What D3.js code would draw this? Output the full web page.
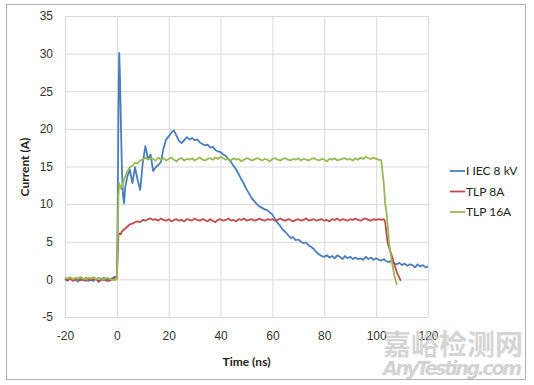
<!DOCTYPE html>
<html>
<head>
<meta charset="UTF-8">
<title>IEC vs TLP current</title>
<script src="https://cdnjs.cloudflare.com/ajax/libs/d3/7.9.0/d3.min.js"></script>
<style>
    body { margin: 0; background: #fff; }
    svg { font-family: Lato, "Open Sans", sans-serif; }
    .grid line { stroke: #d9d9d9; stroke-width: 1; }
    .grid path { display: none; }
    .tick text { fill: #333; font-size: 12px; }
</style>
</head>
<body>
<div id="plot"></div>
<script>
    // ---- data ----
    const xTicks = [-20, 0, 20, 40, 60, 80, 100, 120];
    const yTicks = [-5, 0, 5, 10, 15, 20, 25, 30, 35];
    const seriesNames = ["I IEC 8 kV", "TLP 8A", "TLP 16A"];
    const seriesColors = ["#4a7ebb", "#be4b48", "#98b954"];

    const iecT = [-20,-19,-18,-17,-16,-15,-14,-13,-12,-11,-10,-9,-8,-7,-6,-5,-4,-3,-2,-1,
        0,0.3,0.6,0.9,1.2,1.6,2.0,2.4,2.8,3.2,
        4,5,6,7,8,9,10,11,12,13,14,15,16,17,18,19,20,21,22,23,24,25,26,27,28,29,30,
        31,32,33,34,35,36,37,38,39,40,41,42,43,44,45,46,47,48,49,50,51,52,53,54,55,
        56,57,58,59,60,61,62,63,64,65,66,67,68,69,70,71,72,73,74,75,76,77,78,79,80,
        81,82,83,84,85,86,87,88,89,90,91,92,93,94,95,96,97,98,99,100,101,102,103,104,105,
        106,107,108,109,110,111,112,113,114,115,116,117,118,119,120];
    const iecI = [0.1,-0.2,0.2,-0.1,0.0,-0.3,0.1,-0.1,0.2,-0.2,0.0,-0.2,0.1,-0.3,0.0,0.2,-0.2,-0.1,0.1,0.3,
        0.4,8,22,30.1,27,20,14,11,10.1,12.2,
        13.6,14.6,12.8,14.9,13.2,11.9,15.5,17.7,16.0,16.6,14.4,14.9,15.2,15.6,17.4,18.6,19.0,19.5,19.8,19.1,18.4,18.1,18.5,18.9,18.6,18.8,18.5,
        18.6,18.2,18.0,17.8,17.9,17.5,17.6,17.2,17.0,16.9,16.6,16.4,16.0,15.6,15.1,14.6,14.0,13.3,12.7,12.0,11.4,10.8,10.4,10.0,9.7,
        9.5,9.3,9.2,8.9,8.6,8.0,7.5,7.1,6.6,6.3,5.9,5.5,5.6,5.2,5.3,5.0,4.8,4.9,4.5,4.3,4.0,3.6,3.3,3.1,3.0,
        3.2,2.9,3.1,2.8,3.2,3.0,2.7,3.1,2.8,3.0,2.7,2.9,2.7,2.8,2.6,3.0,2.7,2.9,2.6,2.8,2.6,2.5,2.7,2.4,2.3,
        2.5,2.1,2.0,2.2,1.9,2.1,1.8,2.0,1.9,1.6,2.0,1.7,1.9,1.6,1.7];

    const tlp8T = [-20,-19,-18,-17,-16,-15,-14,-13,-12,-11,-10,-9,-8,-7,-6,-5,-4,-3,-2,-1,
        0,0.3,0.6,1.0,1.5,2,3,4,5,6,7,8,9,10,11,12,13,
        14,15,16,17,18,19,20,21,22,23,24,25,26,27,28,29,30,31,32,33,34,35,36,37,38,
        39,40,41,42,43,44,45,46,47,48,49,50,51,52,53,54,55,56,57,58,59,60,61,62,63,
        64,65,66,67,68,69,70,71,72,73,74,75,76,77,78,79,80,81,82,83,84,85,86,87,88,
        89,90,91,92,93,94,95,96,97,98,99,100,101,102,
        103,103.5,104,104.5,105,106,107,108,109,109.5];
    const tlp8I = [0.0,-0.1,0.1,-0.2,0.0,0.1,-0.1,0.0,-0.2,0.1,-0.1,0.0,0.1,-0.3,0.0,-0.1,0.1,-0.2,0.0,0.2,
        0.3,3,5.9,6.1,6.0,6.4,6.7,7.0,7.3,7.4,7.6,7.7,7.6,7.9,7.8,8.0,8.1,
        7.9,8.0,7.8,8.1,7.9,7.8,8.0,7.7,7.9,8.0,7.8,7.9,7.7,8.0,7.9,7.8,8.1,7.9,7.8,8.0,7.9,7.7,8.0,7.8,7.6,
        7.9,8.0,7.8,7.9,8.1,7.8,7.9,7.7,8.0,7.9,8.1,7.8,7.9,8.0,7.8,7.9,8.1,7.9,7.8,8.0,7.9,8.0,7.8,7.9,8.1,
        7.9,7.8,8.0,7.9,7.7,7.9,8.0,7.8,7.9,8.1,7.8,7.9,8.0,7.8,7.9,8.0,7.8,7.9,7.7,8.0,7.9,8.1,7.8,8.0,7.9,
        7.8,8.0,7.9,8.1,7.9,7.8,8.0,8.1,7.9,7.8,8.0,7.9,8.0,7.9,
        8.0,7.6,6.0,4.8,4.2,3.2,2.0,0.9,0.2,-0.2];

    const tlp16T = [-20,-19,-18,-17,-16,-15,-14,-13,-12,-11,-10,-9,-8,-7,-6,-5,-4,-3,-2,-1,
        0,0.3,0.6,0.9,1.3,1.7,2.2,3,4,5,6,7,8,9,10,11,12,13,
        14,15,16,17,18,19,20,21,22,23,24,25,26,27,28,29,30,31,32,33,34,35,36,37,38,
        39,40,41,42,43,44,45,46,47,48,49,50,51,52,53,54,55,56,57,58,59,60,61,62,63,
        64,65,66,67,68,69,70,71,72,73,74,75,76,77,78,79,80,81,82,83,84,85,86,87,88,
        89,90,91,92,93,94,95,96,97,98,99,100,101,102,
        103,103.5,104,104.5,105,106,107,108,109,109.5];
    const tlp16I = [0.2,0.1,0.3,0.0,0.2,0.1,0.3,0.1,0.0,0.2,0.1,0.3,0.0,0.2,0.1,0.0,0.2,0.1,0.0,-0.1,
        0.0,5,11,12.8,12.3,12.0,12.6,13.5,14.3,14.9,15.1,15.5,15.4,15.8,15.9,16.2,15.9,16.1,
        16.0,15.8,16.2,15.9,16.1,15.8,16.0,16.2,15.9,15.7,16.0,16.1,15.8,16.0,15.9,16.1,15.8,16.0,16.2,15.9,15.8,16.0,16.1,
        15.9,16.2,16.0,16.3,16.1,15.9,16.0,15.8,16.1,15.9,16.0,15.7,15.9,16.1,16.0,15.8,15.9,16.1,16.0,15.8,16.0,15.9,15.7,16.0,16.1,
        15.9,15.8,16.0,16.1,15.9,15.8,16.0,15.9,16.1,15.8,16.0,15.9,15.8,16.0,16.1,15.9,15.8,16.0,15.9,15.7,16.0,15.9,16.1,15.8,15.9,
        16.0,16.1,15.9,16.0,15.8,16.1,15.9,16.2,16.0,16.3,16.1,16.0,16.2,16.0,
        15.9,15.8,12.5,10.0,8.8,7.0,4.8,2.5,0.5,-0.7];

    const seriesT = [iecT, tlp8T, tlp16T];
    const seriesI = [iecI, tlp8I, tlp16I];

    // ---- layout ----
    const W = 534, H = 385;
    const plot = {left: 65, right: 428, top: 16, bottom: 317};

    const svg = d3.select("#plot").append("svg")
        .attr("width", W)
        .attr("height", H);

    // outer frame
    svg.append("rect")
        .attr("x", 6.5).attr("y", 4.5)
        .attr("width", 519).attr("height", 375)
        .attr("fill", "#fff")
        .attr("stroke", "#b0b0b0");

    const xScale = d3.scaleLinear().domain([-20, 120]).range([plot.left, plot.right]);
    const yScale = d3.scaleLinear().domain([-5, 35]).range([plot.bottom, plot.top]);
    const plainNum = d => String(d); // keep the ascii hyphen like the original

    // x axis with vertical gridlines
    svg.append("g")
        .attr("class", "grid")
        .attr("transform", "translate(0," + plot.bottom + ")")
        .call(d3.axisBottom(xScale).tickValues(xTicks).tickFormat(plainNum)
            .tickSize(-(plot.bottom - plot.top)).tickPadding(14))
        .call(g => g.selectAll("text").attr("dy", "0.71em"));

    // y axis with horizontal gridlines
    svg.append("g")
        .attr("class", "grid")
        .attr("transform", "translate(" + plot.left + ",0)")
        .call(d3.axisLeft(yScale).tickValues(yTicks).tickFormat(plainNum)
            .tickSize(-(plot.right - plot.left)).tickPadding(12));

    // series lines
    const line = d3.line()
        .x(d => xScale(d[0]))
        .y(d => yScale(d[1]));

    seriesNames.forEach((name, k) => {
        const pts = seriesT[k].map((t, i) => [t, seriesI[k][i]]);
        svg.append("path")
            .datum(pts)
            .attr("fill", "none")
            .attr("stroke", seriesColors[k])
            .attr("stroke-width", 1.8)
            .attr("stroke-linejoin", "round")
            .attr("d", line);
    });

    // axis titles
    svg.append("text")
        .attr("transform", "translate(29,167) rotate(-90)")
        .attr("text-anchor", "middle")
        .attr("font-size", 12)
        .attr("font-weight", "bold")
        .attr("fill", "#222")
        .text("Current (A)");

    svg.append("text")
        .attr("x", (plot.left + plot.right) / 2)
        .attr("y", 366)
        .attr("text-anchor", "middle")
        .attr("font-size", 12)
        .attr("font-weight", "bold")
        .attr("fill", "#222")
        .text("Time (ns)");

    // legend
    const legend = svg.append("g").attr("transform", "translate(450,171)");
    seriesNames.forEach((name, k) => {
        const row = legend.append("g").attr("transform", "translate(0," + (k * 20.5) + ")");
        row.append("line")
            .attr("x1", 0).attr("x2", 15)
            .attr("stroke", seriesColors[k])
            .attr("stroke-width", 1.8);
        row.append("text")
            .attr("x", 16)
            .attr("dy", "0.35em")
            .attr("font-size", 12)
            .attr("fill", "#222")
            .text(name);
    });

    // watermark
    svg.append("text")
        .attr("x", 383).attr("y", 355)
        .attr("font-family", "'Noto Sans CJK SC', sans-serif")
        .attr("font-size", 28)
        .attr("font-weight", "bold")
        .attr("fill", "#c8c8c8")
        .attr("opacity", 0.75)
        .text("嘉峪检测网");
    svg.append("text")
        .attr("x", 383).attr("y", 375)
        .attr("font-family", "'DejaVu Sans', sans-serif")
        .attr("font-size", 19)
        .attr("font-weight", "bold")
        .attr("font-style", "italic")
        .attr("fill", "#c8c8c8")
        .attr("opacity", 0.8)
        .attr("textLength", 139)
        .text("AnyTesting.com");
</script>
</body>
</html>
